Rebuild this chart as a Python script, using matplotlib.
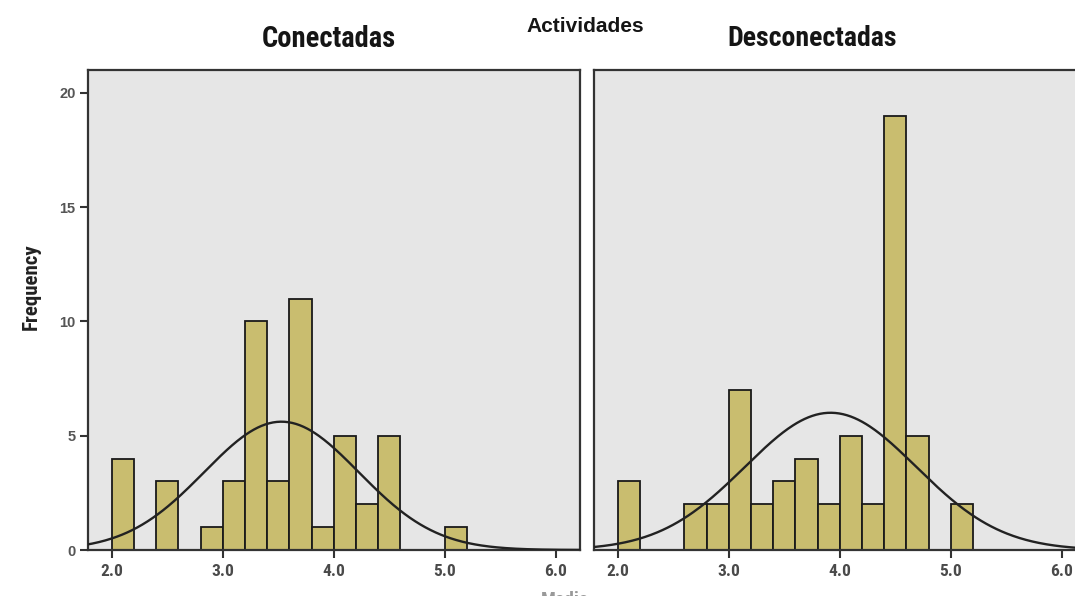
import numpy as np
import matplotlib
matplotlib.use('Agg')
import matplotlib.pyplot as plt

# bin left edges (width 0.2) and counts
bin_width = 0.2
con_edges = [2.0, 2.4, 2.8, 3.0, 3.2, 3.4, 3.6, 3.8, 4.0, 4.2, 4.4, 5.0]
con_counts = [4, 3, 1, 3, 10, 3, 11, 1, 5, 2, 5, 1]
des_edges = [2.0, 2.6, 2.8, 3.0, 3.2, 3.4, 3.6, 3.8, 4.0, 4.2, 4.4, 4.6, 5.0]
des_counts = [3, 2, 2, 7, 2, 3, 4, 2, 5, 2, 19, 5, 2]

panel_titles = ['Conectadas', 'Desconectadas']
x_ticks = [2.0, 3.0, 4.0, 5.0, 6.0]
y_ticks = [0, 5, 10, 15, 20]

narrow = ['Liberation Sans Narrow', 'Roboto Condensed', 'Roboto', 'DejaVu Sans']
arial = ['Liberation Sans', 'DejaVu Sans']
bar_color = '#c9bd6f'
bg = '#e6e6e6'
dark = '#333333'

fig = plt.figure(figsize=(10.75, 5.96), dpi=100)
ax1 = fig.add_axes([88 / 1075, 46 / 596, 492 / 1075, 480 / 596])
ax2 = fig.add_axes([594 / 1075, 46 / 596, 492 / 1075, 480 / 596])


def draw_panel(ax, edges, counts, show_y):
    ax.set_facecolor(bg)
    ax.bar(edges, counts, width=bin_width, align='edge', color=bar_color,
           edgecolor='#1a1a1a', linewidth=1.3, zorder=2)
    # normal curve fitted to the binned values
    centers = np.array(edges) + bin_width / 2
    w = np.array(counts)
    n = w.sum()
    mu = (centers * w).sum() / n
    sd = np.sqrt(((centers - mu) ** 2 * w).sum() / (n - 1))
    xs = np.linspace(1.7, 6.3, 400)
    ys = n * bin_width / (sd * np.sqrt(2 * np.pi)) * np.exp(-0.5 * ((xs - mu) / sd) ** 2)
    ax.plot(xs, ys, color='#222222', linewidth=1.7, zorder=3)

    ax.set_xlim(1.786, 6.218)
    ax.set_ylim(0, 21.0)
    ax.set_xticks(x_ticks)
    ax.set_xticklabels([f'{t:.1f}' for t in x_ticks], family=narrow,
                       fontsize=12.5, fontweight='bold', color='#4a4a4a')
    for s in ['left', 'top', 'right', 'bottom']:
        ax.spines[s].set_color(dark)
        ax.spines[s].set_linewidth(1.6)
    ax.tick_params(axis='x', direction='out', length=6, width=1.5,
                   color=dark, pad=4)
    if show_y:
        ax.set_yticks(y_ticks)
        ax.set_yticklabels([str(t) for t in y_ticks], family=arial, fontsize=10.5,
                           fontweight='bold', color='#555555')
        ax.tick_params(axis='y', direction='out', length=6, width=1.5,
                       color=dark, pad=3)
    else:
        ax.set_yticks([])


draw_panel(ax1, con_edges, con_counts, True)
draw_panel(ax2, des_edges, des_counts, False)

renderer = fig.canvas.get_renderer()


def fit_width(t, px):
    # scale font so the text spans about the same width as in the picture
    w = t.get_window_extent(renderer=renderer).width
    t.set_fontsize(t.get_fontsize() * px / w)


t1 = fig.text(329 / 1075, 1 - 39 / 596, panel_titles[0], family=narrow,
              fontsize=18, fontweight='bold', ha='center', va='center', color='#151515')
t2 = fig.text(812 / 1075, 1 - 39 / 596, panel_titles[1], family=narrow,
              fontsize=18, fontweight='bold', ha='center', va='center', color='#151515')
fig.text(585 / 1075, 1 - 26 / 596, 'Actividades', family=arial,
         fontsize=15, fontweight='bold', ha='center', va='center', color='#151515')
fig.text(31 / 1075, 1 - 287 / 596, 'Frequency', family=narrow, rotation=90,
         fontsize=15, fontweight='bold', ha='center', va='center', color='#222222')
fit_width(t1, 134)
fit_width(t2, 170)
fig.text(565 / 1075, -4 / 596, 'Media', family=narrow,
         fontsize=14, fontweight='bold', ha='center', va='center', color='#999999')

fig.savefig('out.png', dpi=100)
